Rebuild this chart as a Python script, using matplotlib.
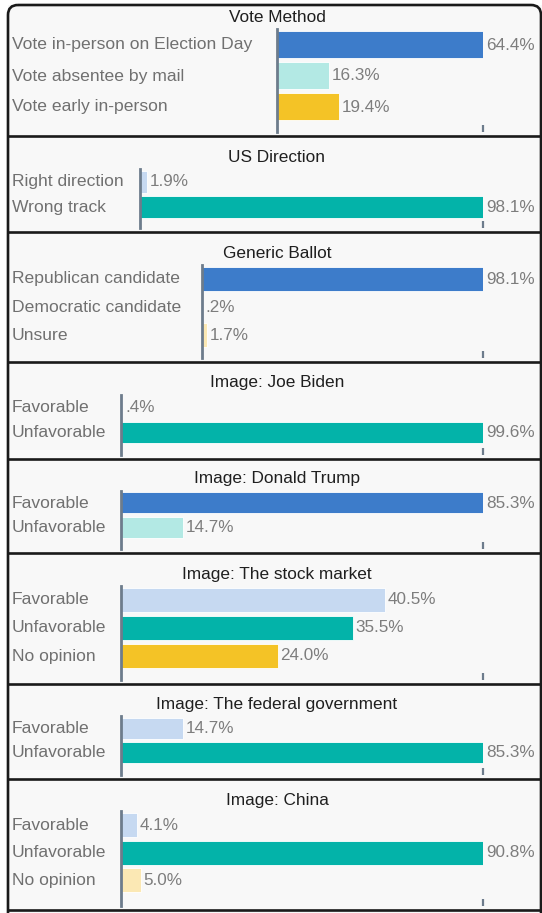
import matplotlib
matplotlib.use("Agg")
import matplotlib.pyplot as plt
from matplotlib.patches import Rectangle, FancyBboxPatch
from matplotlib.transforms import blended_transform_factory

plt.rcParams['font.family'] = ['Liberation Sans', 'DejaVu Sans']

# ---------------- data ----------------
vote_method_title = "Vote Method"
vote_method_labels = ["Vote in-person on Election Day", "Vote absentee by mail", "Vote early in-person"]
vote_method_values = [64.4, 16.3, 19.4]

us_direction_title = "US Direction"
us_direction_labels = ["Right direction", "Wrong track"]
us_direction_values = [1.9, 98.1]

generic_ballot_title = "Generic Ballot"
generic_ballot_labels = ["Republican candidate", "Democratic candidate", "Unsure"]
generic_ballot_values = [98.1, 0.2, 1.7]

biden_title = "Image: Joe Biden"
biden_labels = ["Favorable", "Unfavorable"]
biden_values = [0.4, 99.6]

trump_title = "Image: Donald Trump"
trump_labels = ["Favorable", "Unfavorable"]
trump_values = [85.3, 14.7]

stock_title = "Image: The stock market"
stock_labels = ["Favorable", "Unfavorable", "No opinion"]
stock_values = [40.5, 35.5, 24.0]

fedgov_title = "Image: The federal government"
fedgov_labels = ["Favorable", "Unfavorable"]
fedgov_values = [14.7, 85.3]

china_title = "Image: China"
china_labels = ["Favorable", "Unfavorable", "No opinion"]
china_values = [4.1, 90.8, 5.0]

# x-axis maximum (None = largest value)
stock_axis_max = 55.5

# ---------------- styles ----------------
BLUE = "#3d7cca"
LTEAL = "#b3e9e4"
YELLOW = "#f4c326"
TEAL = "#03b3a9"
LBLUE = "#c6d9f1"
LYELLOW = "#fbe8b4"

W, H = 542, 913
fig = plt.figure(figsize=(W / 100, H / 100), dpi=100)
fig.patch.set_facecolor("white")

bg = fig.add_axes([0, 0, 1, 1])
bg.set_xlim(0, W)
bg.set_ylim(H, 0)
bg.axis("off")

# layout: (title, labels, values, colors, axis_max, top, bottom, axis_left, title_y, first_center, spacing, bar_h)
panels = [
    (vote_method_title, vote_method_labels, vote_method_values, [BLUE, LTEAL, YELLOW], None, 5, 136, 277, 17, 45, 31, 27),
    (us_direction_title, us_direction_labels, us_direction_values, [LBLUE, TEAL], None, 136, 232, 140, 158, 182, 25.5, 22),
    (generic_ballot_title, generic_ballot_labels, generic_ballot_values, [BLUE, LBLUE, LYELLOW], None, 232, 362, 202, 253, 279, 28, 24),
    (biden_title, biden_labels, biden_values, [LBLUE, TEAL], None, 362, 459, 121, 383, 407, 25, 21),
    (trump_title, trump_labels, trump_values, [BLUE, LTEAL], None, 459, 553, 121, 479, 503, 24.5, 21),
    (stock_title, stock_labels, stock_values, [LBLUE, TEAL, YELLOW], stock_axis_max, 553, 684, 121, 574, 600, 28, 24),
    (fedgov_title, fedgov_labels, fedgov_values, [LBLUE, TEAL], None, 684, 779, 121, 704, 728, 24.5, 21),
    (china_title, china_labels, china_values, [LBLUE, TEAL, LYELLOW], None, 779, 910, 121, 800, 825, 27.5, 24),
]

RIGHT = 483
LABEL_X = 12
TITLE_X = 277
FS_LABEL = 12.6
FS_VALUE = 12.3
FS_TITLE = 12.4

# backgrounds
for p in panels:
    top, bot = p[5], p[6]
    bg.add_patch(Rectangle((8, top), W - 8, bot - top, facecolor="#f8f8f8", edgecolor="none", zorder=0))
bg.add_patch(Rectangle((8, 910), W - 8, 10, facecolor="#f8f8f8", edgecolor="none", zorder=0))

# container border
bg.add_patch(FancyBboxPatch((8, 5), 533, 960, boxstyle="round,pad=0,rounding_size=10",
                            facecolor="none", edgecolor="#1a1a1a", linewidth=1.9, zorder=5))
for p in panels:
    bot = p[6]
    bg.plot([8, W], [bot, bot], color="#1a1a1a", lw=1.9, zorder=5, solid_capstyle="butt")


def fmt(v):
    s = f"{v:.1f}%"
    if s.startswith("0."):
        s = s[1:]
    return s


for (title, labels, values, colors, amax, top, bot, left, title_y, c0, s, bh) in panels:
    n = len(values)
    ax_top = c0 - s / 2
    ax_bot = bot - 4
    ax = fig.add_axes([left / W, 1 - ax_bot / H, (RIGHT - left) / W, (ax_bot - ax_top) / H])
    ax.patch.set_alpha(0)
    ymax = (ax_bot - c0) / s
    ax.set_ylim(ymax, -0.5)
    vmax = amax if amax is not None else max(values)
    ax.set_xlim(0, vmax)
    ys = list(range(n))
    ax.barh(ys, values, height=bh / s, color=colors, edgecolor="white", linewidth=0.6, zorder=2)
    for spine in ["top", "right", "bottom"]:
        ax.spines[spine].set_visible(False)
    ax.spines["left"].set_color("#6d7c8c")
    ax.spines["left"].set_linewidth(2)
    ax.spines["left"].set_zorder(3)
    ax.set_yticks([])
    ax.set_xticks([vmax])
    ax.set_xticklabels([])
    ax.tick_params(axis="x", direction="in", length=5, width=1.6, color="#6d7c8c")
    for i, v in enumerate(values):
        ax.annotate(fmt(v), xy=(v, i), xytext=(2, 0), textcoords="offset points",
                    ha="left", va="center", fontsize=FS_VALUE, color="#7d7d7d", annotation_clip=False)
    tr = blended_transform_factory(bg.transData, ax.transData)
    for i, lab in enumerate(labels):
        fig.text(LABEL_X, i, lab, transform=tr, ha="left", va="center", fontsize=FS_LABEL, color="#707070")
    bg.text(TITLE_X, title_y, title, ha="center", va="center", fontsize=FS_TITLE, color="#1f1f1f")

fig.savefig("out.png", dpi=100, facecolor="white")
